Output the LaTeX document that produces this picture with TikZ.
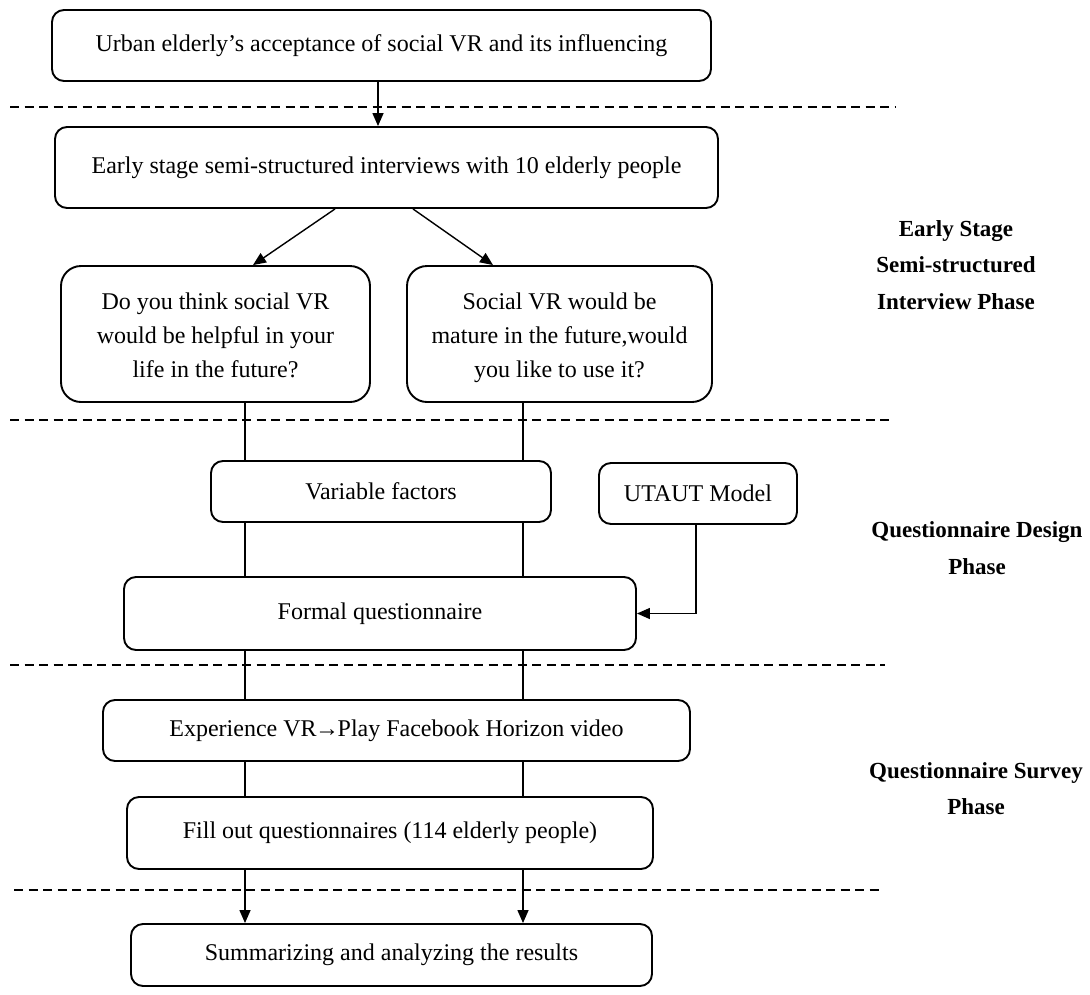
\documentclass[tikz,border=0pt]{standalone}
\usepackage{fontspec}
\setmainfont{Liberation Serif}
\usetikzlibrary{arrows.meta}
\newcommand\topstrut{\rule{0pt}{30pt}}
\newcommand\botstrut{\rule[-10.2pt]{0pt}{10.2pt}}
\begin{document}
\begin{tikzpicture}[x=1pt,y=-1pt,
  box/.style={draw, line width=1.9pt, rounded corners=12pt, inner sep=0pt, align=center, font=\fontsize{24}{34}\selectfont},
  qbox/.style={box, rounded corners=20pt},
  conn/.style={line width=1.4pt},
  arr/.style={conn, -{Triangle[length=13pt,width=11pt]}},
  lbl/.style={font=\fontsize{23}{36.5}\selectfont\bfseries, align=center, inner sep=0pt},
  sep/.style={line width=2pt, dash pattern=on 9pt off 5.5pt}
]
\useasboundingbox (0,0) rectangle (1090,994);

% boxes
\node[box, minimum width=659pt, minimum height=71pt] (top) at (381.5,45.5) {Urban elderly’s acceptance of social VR and its influencing};
\node[box, minimum width=663pt, minimum height=81pt] (interv) at (386.5,167.5) {Early stage semi-structured interviews with 10 elderly people};
\node[qbox, minimum width=309pt, minimum height=136pt] (q1) at (215.5,334) {\topstrut Do you think social VR\\would be helpful in your\\\botstrut life in the future?};
\node[qbox, minimum width=305pt, minimum height=136pt] (q2) at (559.5,334) {\topstrut Social VR would be\\mature in the future,would\\\botstrut you like to use it?};
\node[box, minimum width=340pt, minimum height=61pt] (vf) at (381,491.5) {Variable factors};
\node[box, minimum width=198pt, minimum height=61pt] (utaut) at (698,493.5) {UTAUT Model};
\node[box, minimum width=512pt, minimum height=73pt] (fq) at (380,613.5) {Formal questionnaire};
\node[box, minimum width=587pt, minimum height=61pt] (exp) at (396.5,730.5) {Experience VR\kern-1.5pt→\kern-1.5pt Play Facebook Horizon video};
\node[box, minimum width=526pt, minimum height=72pt] (fill) at (390,833) {Fill out questionnaires (114 elderly people)};
\node[box, minimum width=521pt, minimum height=62pt] (sum) at (391.5,955) {Summarizing and analyzing the results};

% phase labels
\node[lbl, anchor=north] (l1) at (956,220) {Early Stage\\Semi-structured\\Interview Phase};
\node[lbl, anchor=north, font=\fontsize{23}{37.5}\selectfont\bfseries] (l2) at (977,521) {Questionnaire Design\\Phase};
\node[lbl, anchor=north, font=\fontsize{23}{36.5}\selectfont\bfseries] (l3) at (976,762) {Questionnaire Survey\\Phase};

% helper x positions
\coordinate (xT) at (378,0);
\coordinate (xL) at (245,0);
\coordinate (xR) at (523,0);
\coordinate (xU) at (696,0);
\coordinate (a1s) at (335,0);
\coordinate (a1e) at (253,0);
\coordinate (a2s) at (413,0);
\coordinate (a2e) at (493,0);

% separators
\draw[sep] (10,107) -- (895,107);
\draw[sep] (10,420) -- (890,420);
\draw[sep] (10,665) -- (885,665);
\draw[sep] (14,890) -- (882,890);

% connectors
\draw[arr] (top.south -| xT) -- (interv.north -| xT);
\draw[arr] (interv.south -| a1s) -- (q1.north -| a1e);
\draw[arr] (interv.south -| a2s) -- (q2.north -| a2e);
\draw[conn] (q1.south -| xL) -- (vf.north -| xL);
\draw[conn] (q2.south -| xR) -- (vf.north -| xR);
\draw[conn] (vf.south -| xL) -- (fq.north -| xL);
\draw[conn] (vf.south -| xR) -- (fq.north -| xR);
\draw[arr] (utaut.south -| xU) |- (fq.east);
\draw[conn] (fq.south -| xL) -- (exp.north -| xL);
\draw[conn] (fq.south -| xR) -- (exp.north -| xR);
\draw[conn] (exp.south -| xL) -- (fill.north -| xL);
\draw[conn] (exp.south -| xR) -- (fill.north -| xR);
\draw[arr] (fill.south -| xL) -- (sum.north -| xL);
\draw[arr] (fill.south -| xR) -- (sum.north -| xR);
\end{tikzpicture}
\end{document}
